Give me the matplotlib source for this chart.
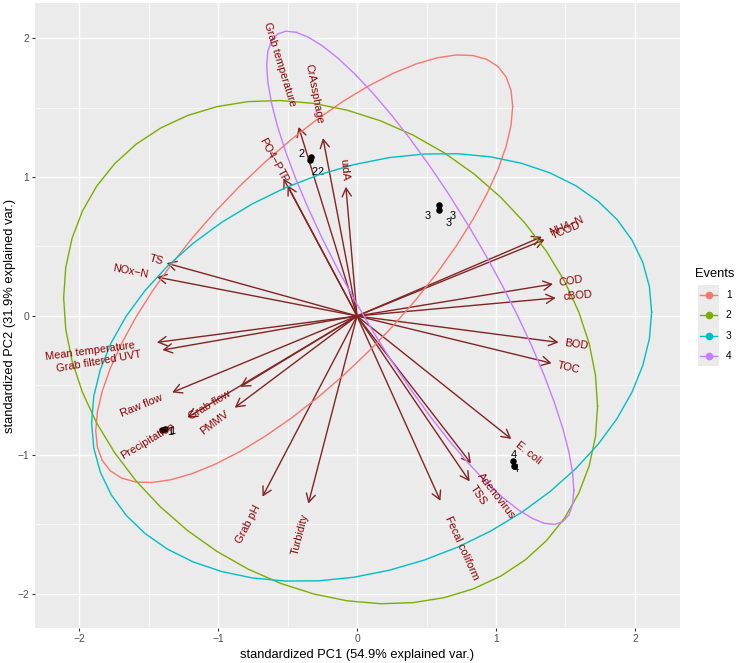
import numpy as np
import matplotlib
matplotlib.use('Agg')
import matplotlib.pyplot as plt
import matplotlib.transforms as mtransforms

plt.rcParams['font.family'] = ['Liberation Sans', 'DejaVu Sans']

# ---------------- data ----------------
var_names = ["Grab temperature", "CrAssphage", "PO4\u2212P", "TP", "uidA",
             "TS", "NOx\u2212N", "Mean temperature", "Grab filtered UVT",
             "Raw flow", "Precipitation", "Grab flow", "PMMV", "Grab pH",
             "Turbidity", "Fecal coliform", "TSS", "Adenovirus", "E. coli",
             "NH4\u2212N", "TCOD", "COD", "cBOD", "BOD", "TOC"]
var_x = [-0.42, -0.245, -0.53, -0.50, -0.08,
         -1.37, -1.44, -1.44, -1.40,
         -1.33, -1.22, -0.84, -0.88, -0.68,
         -0.35, 0.60, 0.81, 0.82, 1.11,
         1.33, 1.35, 1.41, 1.43, 1.45, 1.40]
var_y = [1.36, 1.28, 0.99, 0.94, 0.93,
         0.38, 0.28, -0.19, -0.245,
         -0.55, -0.73, -0.51, -0.66, -1.30,
         -1.35, -1.33, -1.19, -1.06, -0.885,
         0.57, 0.55, 0.23, 0.13, -0.19, -0.34]

# observation points (black dots)
obs_x = [-1.403, -1.381, -0.338, -0.331, 0.590, 0.590, 1.129, 1.122]
obs_y = [-0.820, -0.813, 1.122, 1.144, 0.763, 0.799, -1.079, -1.043]

# observation labels
lab_text = ["1", "1", "2", "2", "2", "3", "3", "3", "4", "4"]
lab_x = [-1.345, -1.33, -0.396, -0.309, -0.266, 0.511, 0.691, 0.662, 1.129, 1.144]
lab_y = [-0.835, -0.825, 1.165, 1.036, 1.036, 0.719, 0.719, 0.669, -1.000, -1.101]

# group ellipses (centre and shape matrix)
events = ["1", "2", "3", "4"]
event_colors = ["#F8766D", "#7CAE00", "#00BFC4", "#C77CFF"]
ell_cx = [-0.38, -0.19, 0.105, 0.455]
ell_cy = [0.34, -0.26, -0.37, 0.275]
ell_vx = [2.25, 3.69, 4.06, 1.221]
ell_vy = [2.37, 3.28, 2.37, 3.15]
ell_cxy = [1.75, -0.75, 0.80, -1.69]

x_ticks = [-2, -1, 0, 1, 2]
y_ticks = [-2, -1, 0, 1, 2]
x_minor = [-1.5, -0.5, 0.5, 1.5]
y_minor = [-1.5, -0.5, 0.5, 1.5]

xlabel = "standardized PC1 (54.9% explained var.)"
ylabel = "standardized PC2 (31.9% explained var.)"

# ---------------- figure ----------------
W, H = 739, 663
DPI = 100
fig = plt.figure(figsize=(W / DPI, H / DPI), dpi=DPI)
ax = fig.add_axes([35 / W, 35 / H, 645 / W, 625 / H])
ax.set_facecolor('#EBEBEB')
ax.set_xlim(-2.317, 2.324)
ax.set_ylim(-2.245, 2.252)
for s in ax.spines.values():
    s.set_visible(False)

for v in x_minor:
    ax.axvline(v, color='white', lw=0.5, zorder=0)
for v in y_minor:
    ax.axhline(v, color='white', lw=0.5, zorder=0)
for v in x_ticks:
    ax.axvline(v, color='white', lw=1.0, zorder=0)
for v in y_ticks:
    ax.axhline(v, color='white', lw=1.0, zorder=0)

ax.set_xticks(x_ticks)
ax.set_yticks(y_ticks)
ax.set_xticklabels(["\u22122", "\u22121", "0", "1", "2"])
ax.set_yticklabels(["\u22122", "\u22121", "0", "1", "2"])
ax.tick_params(length=2.3, width=0.8, color='#333333', labelcolor='#4D4D4D',
               labelsize=7.4, pad=2.0)

# arrows
for x, y in zip(var_x, var_y):
    ax.annotate('', xy=(x, y), xytext=(0, 0),
                arrowprops=dict(arrowstyle='->,head_length=0.6,head_width=0.33',
                                color='#832424', lw=1.0, shrinkA=0, shrinkB=0),
                zorder=2)

# points and labels
ax.scatter(obs_x, obs_y, s=22, color='black', zorder=3, linewidths=0)
for t, x, y in zip(lab_text, lab_x, lab_y):
    ax.text(x, y, t, fontsize=7.9, color='black', ha='center', va='center', zorder=3)

# ellipses
tt = np.linspace(0, 2 * np.pi, 51)
circ = np.vstack([np.cos(tt), np.sin(tt)])
for cx, cy, vx, vy, cxy, col in zip(ell_cx, ell_cy, ell_vx, ell_vy, ell_cxy, event_colors):
    S = np.array([[vx, cxy], [cxy, vy]])
    L = np.linalg.cholesky(S)
    pts = L @ circ
    ax.plot(pts[0] + cx, pts[1] + cy, color=col, lw=1.0, zorder=4)

# variable names (ggbiplot placement)
renderer = fig.canvas.get_renderer()
for name, x, y in zip(var_names, var_x, var_y):
    tmp = ax.text(0, 0, name, fontsize=7.9)
    w_px = tmp.get_window_extent(renderer).width
    tmp.remove()
    a = np.degrees(np.arctan(y / x))
    w_pt = w_px * 72.0 / DPI
    ar = np.radians(a)
    if x > 0:
        ha = 'left'
        dx, dy = 0.25 * w_pt * np.cos(ar), 0.25 * w_pt * np.sin(ar)
    else:
        ha = 'right'
        dx, dy = -0.25 * w_pt * np.cos(ar), -0.25 * w_pt * np.sin(ar)
    trans = ax.transData + mtransforms.ScaledTranslation(dx / 72.0, dy / 72.0, fig.dpi_scale_trans)
    ax.text(x, y, name, fontsize=7.9, color='#8B0000', rotation=a,
            rotation_mode='anchor', ha=ha, va='center', transform=trans, zorder=5)

# axis titles
fig.text(357 / W, 1 - 655 / H, xlabel, ha='center', va='center', fontsize=9.3)
fig.text(10 / W, 1 - 316 / H, ylabel, ha='center', va='center', rotation=90, fontsize=9.3)

# legend
fig.text(695 / W, 1 - 274 / H, "Events", ha='left', va='center', fontsize=9.3)
axl = fig.add_axes([698 / W, 1 - 366 / H, 21 / W, 81 / H])
axl.set_facecolor('#EBEBEB')
axl.set_xlim(0, 1)
axl.set_ylim(0, 4)
axl.set_xticks([])
axl.set_yticks([])
for s in axl.spines.values():
    s.set_visible(False)
for i, (ev, col) in enumerate(zip(events, event_colors)):
    yk = 3.5 - i
    axl.plot([0.1, 0.9], [yk, yk], color=col, lw=1.0)
    axl.plot([0.5], [yk], 'o', color=col, ms=4.5)
    fig.text(726 / W, 1 - (295 + i * 20.3) / H, ev, ha='left', va='center', fontsize=7.4)
    axl.axhline(i, color='white', lw=0.0)

fig.savefig('out.png', dpi=DPI)
